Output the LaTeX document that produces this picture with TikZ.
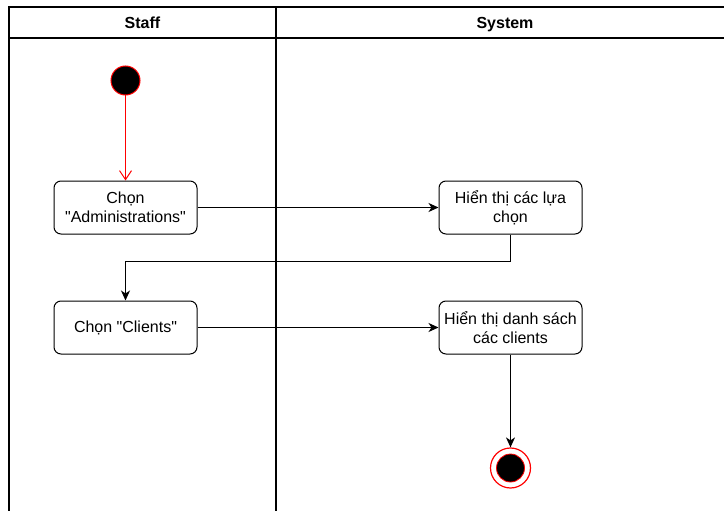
\documentclass[tikz,border=0pt]{standalone}
\usepackage{fontspec}
\setmainfont{Liberation Sans}
\usetikzlibrary{arrows.meta}
\begin{document}
\begin{tikzpicture}[x=1pt,y=-1pt,
  lane/.style={line width=1.3pt, draw=black},
  act/.style={draw, line width=1pt, rounded corners=7pt, minimum width=143pt, minimum height=53pt, align=center, font=\fontsize{16}{19}\selectfont, inner sep=2pt},
  hdr/.style={font=\bfseries\fontsize{16}{19}\selectfont, text height=11.5pt, text depth=3.5pt, inner sep=0pt},
  flow/.style={line width=1.2pt, -{Stealth[length=10pt,width=9pt,inset=3pt]}},
  startflow/.style={draw=red, line width=1pt, -{Straight Barb[length=9pt,width=12pt]}},
  startnode/.style={circle, fill=black, draw=red, line width=1pt, minimum size=29pt, inner sep=0pt},
  endring/.style={circle, draw=red, line width=1.2pt, minimum size=40pt, inner sep=0pt},
  enddot/.style={circle, fill=black, draw=red, line width=0.8pt, minimum size=28pt, inner sep=0pt}]
\useasboundingbox (0,0) rectangle (724,511);
\clip (0,0) rectangle (724,511);
% swimlanes
\draw[lane] (9,530) -- (9,7) -- (760,7);
\draw[lane] (9,38) -- (760,38);
\draw[lane] (276,7) -- (276,530);
\node[hdr] (hstaff) at (142.5,25) {Staff};
\node[hdr] (hsystem) at (505,25) {System};
% nodes
\node[startnode] (start) at (125.5,80.5) {};
\node[act] (b1) at (125.5,207.5) {Chọn\\\textquotedbl Administrations\textquotedbl};
\node[act] (b2) at (510.5,207.5) {Hiển thị các lựa\\chọn};
\node[act] (b3) at (125.5,327.5) {Chọn \textquotedbl Clients\textquotedbl};
\node[act] (b4) at (510.5,327.5) {Hiển thị danh sách\\các clients};
\node[endring] (endr) at (510.5,468) {};
\node[enddot] (endd) at (endr) {};
% connectors
\draw[startflow] (start) -- (b1);
\draw[flow] (b1) -- (b2);
\draw[flow] (b2.south) -- ++(0,27) -| (b3.north);
\draw[flow] (b3) -- (b4);
\draw[flow] (b4) -- (endr);
\end{tikzpicture}
\end{document}
